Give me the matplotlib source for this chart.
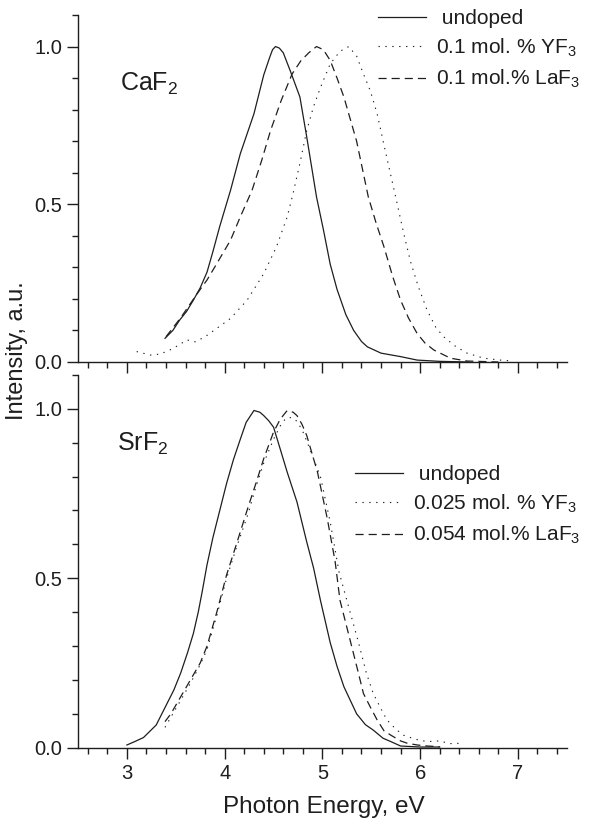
import numpy as np
import matplotlib
matplotlib.use("Agg")
import matplotlib.pyplot as plt
from matplotlib.ticker import MultipleLocator

plt.rcParams['font.family'] = ['Liberation Sans', 'DejaVu Sans']
plt.rcParams['mathtext.fontset'] = 'custom'
plt.rcParams['mathtext.rm'] = 'Liberation Sans'
plt.rcParams['mathtext.it'] = 'Liberation Sans:italic'
plt.rcParams['mathtext.bf'] = 'Liberation Sans:bold'

ink = '#1e1e1e'

# CaF2 (top panel)
caf_undoped_x = [3.39, 3.47, 3.54, 3.61, 3.68, 3.75, 3.82, 3.88, 3.95, 4.06, 4.16, 4.30, 4.40, 4.46,
                 4.49, 4.52, 4.56, 4.60, 4.67, 4.77, 4.84, 4.94, 5.01, 5.08, 5.15, 5.24, 5.32, 5.40,
                 5.46, 5.60, 5.80, 5.97, 6.20, 6.50]
caf_undoped_y = [0.075, 0.10, 0.133, 0.16, 0.196, 0.235, 0.285, 0.35, 0.43, 0.544, 0.66, 0.787, 0.91, 0.965,
                 0.99, 1.0, 0.995, 0.98, 0.924, 0.84, 0.713, 0.523, 0.42, 0.31, 0.23, 0.15, 0.10, 0.065,
                 0.048, 0.028, 0.017, 0.006, 0.002, 0.0]
caf_laf_x = [3.40, 3.55, 3.72, 3.82, 3.92, 4.06, 4.16, 4.28, 4.38, 4.47, 4.58, 4.69, 4.78, 4.86, 4.94,
             5.01, 5.08, 5.15, 5.22, 5.35, 5.47, 5.55, 5.63, 5.72, 5.80, 5.88, 5.97, 6.05, 6.14, 6.31,
             6.48, 6.80]
caf_laf_y = [0.08, 0.14, 0.217, 0.26, 0.312, 0.386, 0.46, 0.544, 0.64, 0.734, 0.83, 0.913, 0.955, 0.98, 1.0,
             0.99, 0.956, 0.90, 0.84, 0.70, 0.523, 0.44, 0.365, 0.27, 0.196, 0.14, 0.09, 0.06, 0.038, 0.012,
             0.003, 0.0]
caf_yf_x = [3.10, 3.24, 3.34, 3.44, 3.54, 3.61, 3.70, 3.80, 3.89, 4.06, 4.23, 4.40, 4.53, 4.64, 4.70,
            4.77, 4.84, 4.91, 4.98, 5.08, 5.18, 5.27, 5.35, 5.42, 5.49, 5.56, 5.65, 5.75, 5.83, 5.90,
            5.98, 6.07, 6.16, 6.24, 6.36, 6.48, 6.65, 6.82, 6.95]
caf_yf_y = [0.033, 0.022, 0.025, 0.038, 0.055, 0.07, 0.064, 0.08, 0.10, 0.138, 0.196, 0.28, 0.365, 0.46, 0.534,
            0.63, 0.734, 0.81, 0.87, 0.945, 0.985, 1.0, 0.97, 0.913, 0.86, 0.787, 0.66, 0.523, 0.41, 0.32,
            0.24, 0.165, 0.11, 0.08, 0.05, 0.028, 0.012, 0.006, 0.003]

# SrF2 (bottom panel)
srf_undoped_x = [3.00, 3.08, 3.17, 3.30, 3.41, 3.48, 3.55, 3.62, 3.68, 3.73, 3.77, 3.82, 3.88, 3.95, 4.02,
                 4.09, 4.16, 4.22, 4.30, 4.36, 4.40, 4.45, 4.50, 4.57, 4.64, 4.74, 4.84, 4.91, 4.98, 5.08,
                 5.15, 5.22, 5.35, 5.44, 5.52, 5.62, 5.70, 5.80, 6.00, 6.20]
srf_undoped_y = [0.008, 0.018, 0.03, 0.067, 0.13, 0.17, 0.22, 0.28, 0.337, 0.40, 0.46, 0.54, 0.62, 0.70, 0.78,
                 0.85, 0.91, 0.96, 0.995, 0.99, 0.98, 0.965, 0.946, 0.88, 0.813, 0.725, 0.607, 0.53, 0.435, 0.31,
                 0.24, 0.18, 0.10, 0.068, 0.052, 0.028, 0.018, 0.005, 0.002, 0.002]
srf_laf_x = [3.39, 3.45, 3.55, 3.65, 3.75, 3.82, 3.92, 4.02, 4.12, 4.24, 4.32, 4.40, 4.50, 4.57, 4.64,
             4.70, 4.74, 4.79, 4.84, 4.95, 5.05, 5.13, 5.18, 5.29, 5.36, 5.42, 5.49, 5.56, 5.63, 5.70,
             5.80, 5.87, 5.97, 6.07, 6.20]
srf_laf_y = [0.077, 0.10, 0.15, 0.20, 0.25, 0.30, 0.40, 0.51, 0.60, 0.71, 0.78, 0.853, 0.931, 0.97, 0.995,
             0.99, 0.98, 0.955, 0.921, 0.813, 0.676, 0.55, 0.435, 0.31, 0.23, 0.16, 0.12, 0.082, 0.05, 0.037,
             0.02, 0.013, 0.008, 0.005, 0.003]
srf_yf_x = [3.39, 3.45, 3.55, 3.65, 3.75, 3.82, 3.92, 4.02, 4.12, 4.24, 4.32, 4.40, 4.50, 4.57, 4.62,
            4.66, 4.72, 4.79, 4.86, 4.98, 5.08, 5.17, 5.25, 5.37, 5.45, 5.52, 5.59, 5.66, 5.75, 5.83,
            5.95, 6.07, 6.20, 6.30, 6.41]
srf_yf_y = [0.06, 0.09, 0.14, 0.19, 0.245, 0.29, 0.39, 0.50, 0.59, 0.69, 0.77, 0.84, 0.91, 0.95, 0.97,
            0.975, 0.97, 0.94, 0.89, 0.80, 0.666, 0.519, 0.435, 0.31, 0.22, 0.16, 0.12, 0.082, 0.055, 0.037,
            0.025, 0.018, 0.02, 0.012, 0.013]

caf_labels = [" undoped", "0.1 mol. % YF$_3$", "0.1 mol.% LaF$_3$"]
srf_labels = [" undoped", "0.025 mol. % YF$_3$", "0.054 mol.% LaF$_3$"]

solid_style = dict(color=ink, lw=0.9, linestyle='-')
dot_style = dict(color=ink, lw=0.8, linestyle=(0, (1.2, 5)))
dash_style = dict(color=ink, lw=0.9, linestyle=(0, (6.5, 4)))

fig = plt.figure(figsize=(5.91, 8.24), dpi=100)
ax1 = fig.add_axes([0.132, 0.5607, 0.827, 0.4211])
ax2 = fig.add_axes([0.132, 0.0926, 0.827, 0.4524])


def style_axes(ax, show_xlabels):
    ax.set_xlim(2.5, 7.5)
    ax.set_ylim(0, 1.1)
    for s in ['top', 'right']:
        ax.spines[s].set_visible(False)
    for s in ['left', 'bottom']:
        ax.spines[s].set_linewidth(1.0)
        ax.spines[s].set_color(ink)
    ax.xaxis.set_major_locator(MultipleLocator(1))
    ax.xaxis.set_minor_locator(MultipleLocator(0.2))
    ax.yaxis.set_major_locator(MultipleLocator(0.5))
    ax.yaxis.set_minor_locator(MultipleLocator(0.1))
    ax.tick_params(which='major', direction='out', length=8, width=1.0, color=ink,
                   labelsize=14.5, pad=3.5, labelcolor=ink)
    ax.tick_params(which='minor', direction='out', length=4.5, width=1.0, color=ink)
    ax.yaxis.set_major_formatter(matplotlib.ticker.FormatStrFormatter('%.1f'))
    if not show_xlabels:
        ax.tick_params(axis='x', which='both', labelbottom=False)


style_axes(ax1, False)
style_axes(ax2, True)

ax1.plot(caf_undoped_x, caf_undoped_y, label=caf_labels[0], **solid_style)
ax1.plot(caf_yf_x, caf_yf_y, label=caf_labels[1], **dot_style)
ax1.plot(caf_laf_x, caf_laf_y, label=caf_labels[2], **dash_style)

ax2.plot(srf_undoped_x, srf_undoped_y, label=srf_labels[0], **solid_style)
ax2.plot(srf_yf_x, srf_yf_y, label=srf_labels[1], **dot_style)
ax2.plot(srf_laf_x, srf_laf_y, label=srf_labels[2], **dash_style)

ax1.text(2.93, 0.86, 'CaF$_2$', fontsize=18, color=ink, va='baseline')
ax2.text(2.90, 0.877, 'SrF$_2$', fontsize=18, color=ink, va='baseline')

leg_kw = dict(frameon=False, fontsize=15, borderpad=0, borderaxespad=0,
              handlelength=2.3, handletextpad=0.5, labelspacing=0.42,
              bbox_transform=fig.transFigure, loc='upper left', labelcolor=ink)
ax1.legend(bbox_to_anchor=(378 / 591, 1 - 9 / 824), **leg_kw)
ax2.legend(bbox_to_anchor=(355 / 591, 1 - 465 / 824), **leg_kw)

fig.text(0.548, 0.0133, 'Photon Energy, eV', fontsize=17.5, color=ink, ha='center', va='baseline')
fig.text(0.029, 0.575, 'Intensity, a.u.', fontsize=17, color=ink, ha='center', va='center',
         rotation=90)

fig.savefig('out.png', dpi=100)
